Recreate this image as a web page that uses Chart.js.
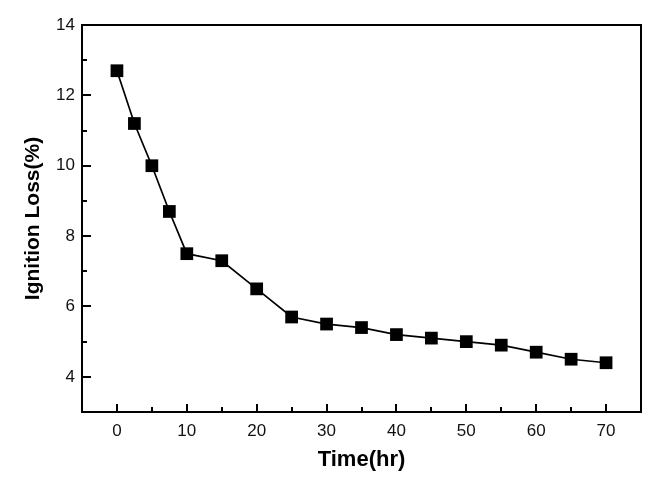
<!DOCTYPE html>
<html>
<head>
<meta charset="utf-8">
<script src="https://cdn.jsdelivr.net/npm/chart.js@4"></script>
<style>
  html, body { margin: 0; padding: 0; background: #fff; }
  #wrap { width: 660px; height: 488px; }
</style>
</head>
<body>
<div id="wrap"><canvas id="myChart"></canvas></div>
<script>
// datos
const timeHr = [0, 2.5, 5, 7.5, 10, 15, 20, 25, 30, 35, 40, 45, 50, 55, 60, 65, 70];
const ignitionLoss = [12.7, 11.2, 10.0, 8.7, 7.5, 7.3, 6.5, 5.7, 5.5, 5.4, 5.2, 5.1, 5.0, 4.9, 4.7, 4.5, 4.4];
const xTickLabels = [0, 10, 20, 30, 40, 50, 60, 70];
const yTickLabels = [4, 6, 8, 10, 12, 14];

const points = timeHr.map((t, i) => ({ x: t, y: ignitionLoss[i] }));

// marco y marcas hacia adentro (estilo Origin)
const frameTicks = {
  id: 'frameTicks',
  afterDraw(chart) {
    const { ctx, chartArea: a, scales } = chart;
    ctx.save();
    ctx.strokeStyle = '#000';
    ctx.lineWidth = 2;
    ctx.strokeRect(a.left, a.top, a.right - a.left, a.bottom - a.top);

    const xs = scales.x;
    xs.ticks.forEach(t => {
      if (t.value <= xs.min || t.value >= xs.max) return;
      const px = Math.round(xs.getPixelForValue(t.value));
      const len = xTickLabels.includes(t.value) ? 8 : 5;
      ctx.beginPath();
      ctx.moveTo(px, a.bottom);
      ctx.lineTo(px, a.bottom - len);
      ctx.stroke();
    });

    const ys = scales.y;
    ys.ticks.forEach(t => {
      if (t.value <= ys.min || t.value >= ys.max) return;
      const py = Math.round(ys.getPixelForValue(t.value));
      const len = yTickLabels.includes(t.value) ? 9 : 5;
      ctx.beginPath();
      ctx.moveTo(a.left, py);
      ctx.lineTo(a.left + len, py);
      ctx.stroke();
    });
    ctx.restore();
  }
};

const ctx = document.getElementById('myChart').getContext('2d');
const chart = new Chart(ctx, {
  type: 'line',
  data: {
    datasets: [{
      label: 'Ignition Loss',
      data: points,
      borderColor: '#000',
      borderWidth: 1.7,
      backgroundColor: '#000',
      pointStyle: 'rect',
      pointRadius: 9,
      pointBorderWidth: 0,
      pointBackgroundColor: '#000',
      tension: 0
    }]
  },
  options: {
    responsive: true,
    maintainAspectRatio: false,
    animation: false,
    layout: { padding: { left: 0, right: 19, top: 25, bottom: 0 } },
    plugins: {
      legend: { display: false },
      tooltip: { enabled: false }
    },
    scales: {
      x: {
        type: 'linear',
        min: -5,
        max: 75,
        grid: { display: false, drawTicks: false },
        border: { display: false },
        ticks: {
          stepSize: 5,
          autoSkip: false,
          maxRotation: 0,
          padding: 9,
          color: '#111',
          font: { family: 'Liberation Sans, Arial', size: 17 },
          callback: v => xTickLabels.includes(v) ? String(v) : ''
        },
        title: {
          display: true,
          text: 'Time(hr)',
          color: '#000',
          font: { family: 'Liberation Sans, Arial', size: 22, weight: 'bold' },
          padding: { top: 15, bottom: 15 }
        },
        afterFit(scale) { scale.height = 76; }
      },
      y: {
        type: 'linear',
        min: 3,
        max: 14,
        grid: { display: false, drawTicks: false },
        border: { display: false },
        ticks: {
          stepSize: 1,
          autoSkip: false,
          padding: 7,
          color: '#111',
          font: { family: 'Liberation Sans, Arial', size: 17 },
          callback: v => yTickLabels.includes(v) ? String(v) : ''
        },
        title: {
          display: true,
          text: 'Ignition Loss(%)',
          color: '#000',
          font: { family: 'Liberation Sans, Arial', size: 21, weight: 'bold' },
          padding: { top: 21, bottom: 21 }
        },
        afterFit(scale) { scale.width = 82; }
      }
    }
  },
  plugins: [frameTicks]
});
</script>
</body>
</html>
